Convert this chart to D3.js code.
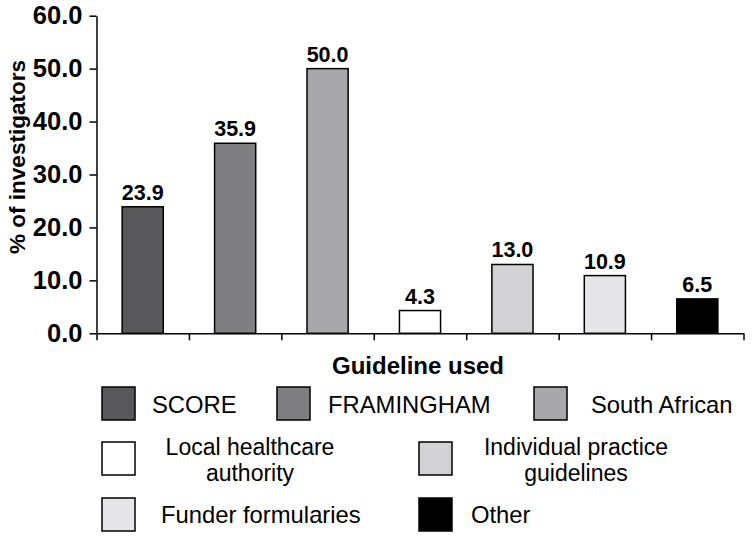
<!DOCTYPE html>
<html>
<head>
<meta charset="utf-8">
<script src="https://cdn.jsdelivr.net/npm/d3@7"></script>
<style>
  html, body { margin: 0; padding: 0; background: #fff; }
  svg { display: block; font-family: "Liberation Sans", Arial, Helvetica, sans-serif; }
</style>
</head>
<body>
<svg id="chart" width="755" height="538"></svg>
<script>
// ---- data ----
const categories = ["SCORE", "FRAMINGHAM", "South African", "Local healthcare authority",
                    "Individual practice guidelines", "Funder formularies", "Other"];
const values = [23.9, 35.9, 50.0, 4.3, 13.0, 10.9, 6.5];
const yTicks = [0, 10, 20, 30, 40, 50, 60];
const legendLabels = [["SCORE"], ["FRAMINGHAM"], ["South African"],
                      ["Local healthcare", "authority"], ["Individual practice", "guidelines"],
                      ["Funder formularies"], ["Other"]];
const colors = ["#58585a", "#7f7f82", "#a8a8ab", "#ffffff", "#d2d2d4", "#e6e6e8", "#000000"];
const yTitle = "% of investigators";
const xTitle = "Guideline used";

// ---- layout ----
const svg = d3.select("#chart");
const x0 = 96.5, x1 = 743.5, yTop = 15.7, yBot = 333.3;

const x = d3.scaleBand().domain(categories).range([x0, x1])
  .paddingInner(0.555).paddingOuter(0.2775);
const y = d3.scaleLinear().domain([0, 60]).range([yBot, yTop]);

// bars
svg.append("g").selectAll("rect").data(categories).join("rect")
  .attr("x", d => x(d))
  .attr("y", (d, i) => y(values[i]))
  .attr("width", x.bandwidth())
  .attr("height", (d, i) => y(0) - y(values[i]))
  .attr("fill", (d, i) => colors[i])
  .attr("stroke", "#000")
  .attr("stroke-width", 1.5);

// value labels
svg.append("g").selectAll("text").data(categories).join("text")
  .attr("x", d => x(d) + x.bandwidth() / 2)
  .attr("y", (d, i) => y(values[i]) - 7)
  .attr("text-anchor", "middle")
  .attr("font-size", 21.5)
  .attr("font-weight", "bold")
  .attr("fill", "#000")
  .text((d, i) => values[i].toFixed(1));

// y axis
const yAxis = svg.append("g").attr("transform", `translate(${x0},0)`)
  .call(d3.axisLeft(y).tickValues(yTicks).tickSize(7).tickSizeOuter(0).tickPadding(7)
    .tickFormat(d => d3.format(".1f")(d)));
yAxis.select(".domain").attr("stroke", "#000").attr("stroke-width", 1.5);
yAxis.selectAll(".tick line").attr("stroke", "#000").attr("stroke-width", 1.5);
yAxis.selectAll(".tick text").attr("font-size", 25.5).attr("font-weight", "bold")
  .attr("fill", "#000").attr("font-family", "'Liberation Sans', Arial, sans-serif");

// x axis with ticks at band boundaries
const xAxisScale = d3.scaleLinear().domain([0, categories.length]).range([x0, x1]);
const xAxis = svg.append("g").attr("transform", `translate(0,${yBot})`)
  .call(d3.axisBottom(xAxisScale).tickValues(d3.range(categories.length + 1))
    .tickSize(7).tickSizeOuter(0).tickFormat(""));
xAxis.select(".domain").attr("stroke", "#000").attr("stroke-width", 1.5);
xAxis.selectAll(".tick line").attr("stroke", "#000").attr("stroke-width", 1.5);

// y title
svg.append("text")
  .attr("transform", "translate(25,157) rotate(-90)")
  .attr("text-anchor", "middle")
  .attr("font-size", 22.5)
  .attr("font-weight", "bold")
  .text(yTitle);

// x title
svg.append("text")
  .attr("x", 418).attr("y", 374)
  .attr("text-anchor", "middle")
  .attr("font-size", 24)
  .attr("font-weight", "bold")
  .text(xTitle);

// legend
const legendPos = [
  {sx: 102, sy: 387, tx: 152, ty: 413, anchor: "start"},
  {sx: 277, sy: 387, tx: 328, ty: 413, anchor: "start"},
  {sx: 534, sy: 387, tx: 591, ty: 413, anchor: "start"},
  {sx: 102, sy: 442, tx: 250, ty: 455, anchor: "middle"},
  {sx: 419, sy: 442, tx: 576, ty: 455, anchor: "middle"},
  {sx: 102, sy: 498, tx: 161, ty: 523, anchor: "start"},
  {sx: 419, sy: 498, tx: 471, ty: 523, anchor: "start"}
];
const lg = svg.append("g").selectAll("g").data(categories).join("g");
lg.append("rect")
  .attr("x", (d, i) => legendPos[i].sx)
  .attr("y", (d, i) => legendPos[i].sy)
  .attr("width", 33).attr("height", 33)
  .attr("fill", (d, i) => colors[i])
  .attr("stroke", "#000").attr("stroke-width", 1.5);
lg.each(function(d, i) {
  const g = d3.select(this);
  legendLabels[i].forEach((line, j) => {
    g.append("text")
      .attr("x", legendPos[i].tx)
      .attr("y", legendPos[i].ty + j * 25.5)
      .attr("text-anchor", legendPos[i].anchor)
      .attr("font-size", legendLabels[i].length > 1 ? 23 : 23.8)
      .attr("fill", "#000")
      .text(line);
  });
});
</script>
</body>
</html>
